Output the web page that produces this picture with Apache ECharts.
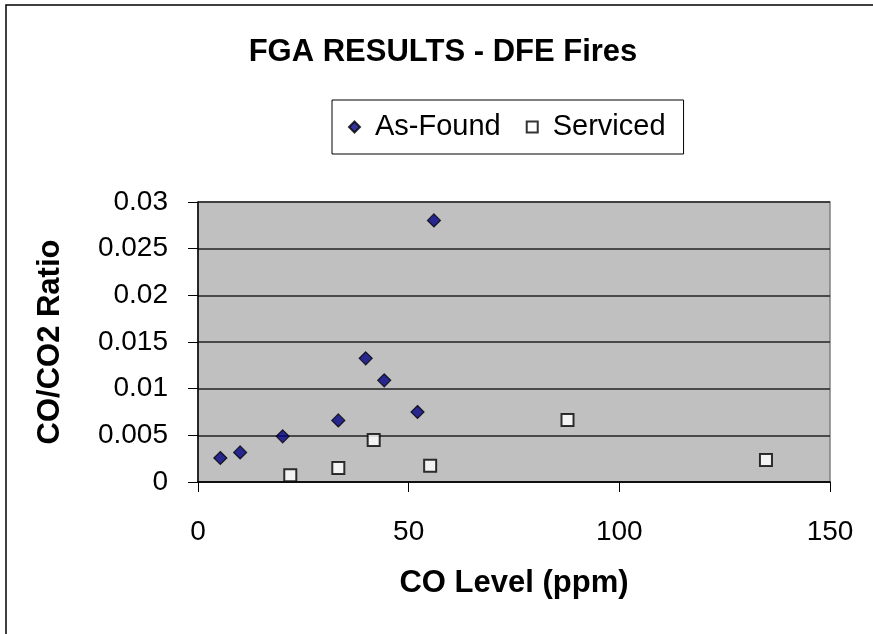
<!DOCTYPE html>
<html>
<head>
<meta charset="utf-8">
<script src="https://cdn.jsdelivr.net/npm/echarts@6/dist/echarts.min.js"></script>
<style>html,body{margin:0;padding:0;background:#fff;}#c{width:873px;height:634px;}</style>
</head>
<body>
<div id="c"></div>
<script>
// Data
const asFoundCO = [5.3, 10.0, 20.1, 33.3, 39.8, 44.2, 52.1, 56.0];
const asFoundRatio = [0.00257, 0.00317, 0.00489, 0.0066, 0.01325, 0.01089, 0.0075, 0.02803];
const servicedCO = [21.9, 33.3, 41.7, 55.1, 87.7, 134.8];
const servicedRatio = [0.00071, 0.0015, 0.0045, 0.00175, 0.00664, 0.00236];
const xTickLabels = ['0', '50', '100', '150'];
const yTickLabels = ['0', '0.005', '0.01', '0.015', '0.02', '0.025', '0.03'];

const FONT = '"Liberation Sans", Arial, sans-serif';
const chart = echarts.init(document.getElementById('c'));
chart.setOption({
  backgroundColor: '#fff',
  animation: false,
  title: {
    text: 'FGA RESULTS - DFE Fires',
    left: 438, top: 29, textAlign: 'center',
    textStyle: { fontFamily: FONT, fontWeight: 'bold', fontSize: 31, lineHeight: 36, color: '#000' }
  },
  legend: {
    left: 332, top: 100,
    orient: 'horizontal',
    padding: [12, 18, 12, 16],
    borderColor: '#000', borderWidth: 1,
    backgroundColor: '#fff',
    itemWidth: 11, itemHeight: 11, itemGap: 25,
    textStyle: { fontFamily: FONT, fontSize: 29, color: '#000', lineHeight: 30, padding: [0, 0, 0, 10] },
    data: ['As-Found', 'Serviced']
  },
  graphic: [{
    type: 'rect', silent: true, z: -1,
    shape: { x: 6, y: 5, width: 1000, height: 800 },
    style: { fill: 'none', stroke: '#000', lineWidth: 1.5 }
  }],
  grid: { left: 198, right: 43, top: 202, bottom: 152, show: true, backgroundColor: '#C0C0C0', borderColor: '#808080', borderWidth: 1.5 },
  xAxis: {
    type: 'value', min: 0, max: 150, interval: 50,
    name: 'CO Level (ppm)', nameLocation: 'middle', nameGap: 86,
    nameTextStyle: { fontFamily: FONT, fontWeight: 'bold', fontSize: 31, color: '#000' },
    axisLine: { show: true, onZero: false, lineStyle: { color: '#000', width: 1.5 } },
    axisTick: { show: true, inside: false, length: 10, lineStyle: { color: '#000', width: 1 } },
    axisLabel: { margin: 36, fontFamily: FONT, fontSize: 28, color: '#000',
      formatter: v => xTickLabels[Math.round(v / 50)] },
    splitLine: { show: false }
  },
  yAxis: {
    type: 'value', min: 0, max: 0.03, interval: 0.005,
    name: 'CO/CO2 Ratio', nameLocation: 'middle', nameGap: 132, nameRotate: 90,
    nameTextStyle: { fontFamily: FONT, fontWeight: 'bold', fontSize: 31, color: '#000' },
    axisLine: { show: true, onZero: false, lineStyle: { color: '#000', width: 1.5 } },
    axisTick: { show: true, inside: false, length: 10, lineStyle: { color: '#000', width: 1 } },
    axisLabel: { margin: 30, fontFamily: FONT, fontSize: 28, color: '#000',
      formatter: v => yTickLabels[Math.round(v / 0.005)] },
    splitLine: { show: true, lineStyle: { color: '#222', width: 1.5 } }
  },
  series: [
    {
      name: 'As-Found', type: 'scatter', symbol: 'diamond', symbolSize: 13,
      itemStyle: { color: '#000080', borderColor: '#000', borderWidth: 1.2 },
      data: asFoundCO.map((x, i) => [x, asFoundRatio[i]])
    },
    {
      name: 'Serviced', type: 'scatter', symbol: 'rect', symbolSize: 12,
      itemStyle: { color: '#fff', borderColor: '#000', borderWidth: 2 },
      data: servicedCO.map((x, i) => [x, servicedRatio[i]])
    }
  ]
});
</script>
</body>
</html>
